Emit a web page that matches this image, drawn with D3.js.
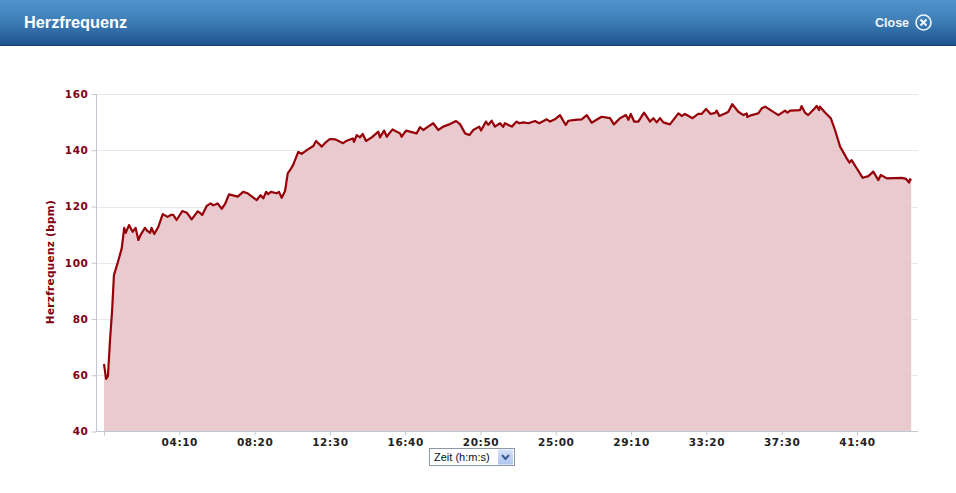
<!DOCTYPE html>
<html><head><meta charset="utf-8">
<script src="https://cdn.jsdelivr.net/npm/d3@7"></script>
<style>html,body{margin:0;padding:0;background:#fff;overflow:hidden}svg{display:block}</style>
</head><body><div id="c"></div>
<script>
const seconds=[0,7,13,20,27,33,40,50,59,67,72,83,95,105,114,123,136,144,153,158,167,180,195,211,222,230,241,260,275,291,311,319,326,341,354,363,377,391,402,415,444,462,477,507,520,529,538,545,554,573,581,590,601,610,618,628,645,656,678,695,704,723,734,750,767,794,806,826,830,839,850,859,870,889,911,916,930,939,947,958,983,988,1003,1038,1049,1060,1076,1093,1110,1126,1149,1169,1182,1199,1213,1226,1246,1252,1268,1276,1287,1298,1315,1325,1331,1354,1370,1379,1392,1409,1431,1445,1470,1481,1497,1514,1533,1542,1564,1586,1603,1619,1652,1680,1693,1713,1733,1741,1749,1760,1774,1793,1813,1824,1835,1846,1857,1879,1907,1918,1929,1954,1973,1984,1999,2014,2029,2034,2043,2062,2073,2086,2106,2123,2134,2136,2150,2172,2184,2195,2239,2261,2269,2278,2311,2316,2327,2338,2360,2366,2374,2377,2394,2413,2427,2444,2466,2475,2482,2499,2519,2538,2554,2571,2579,2599,2648,2663,2673,2676,2680];
const bpm=[64,58.7,59.7,72.5,83.2,95.6,98.1,101.7,105.2,112.4,110.6,113.4,111,112.4,108.1,110.2,112.4,111.3,110.6,112.4,110.2,112.7,117.3,116.3,117,117,115.2,118.4,117.8,115.4,118.3,117.7,117,120.2,121.1,120.4,121.1,119.2,120.9,124.3,123.5,125.2,124.7,122.3,124,122.9,125.2,124.4,125.2,124.7,125.2,123.1,125.5,131.8,133,134.8,139.4,138.7,140.4,141.5,143.3,141.3,142.6,144,143.9,142.5,143.4,144.2,143,145.4,144.6,145.8,143.3,144.6,146.6,144.6,147,144.8,146,147.4,146,144.8,147,146,148.2,147.2,148.4,149.6,147.2,148.4,149.3,150.4,149.3,146,145.4,147.2,148.4,147,150.2,149,150.5,148.4,149.6,148.3,149.6,148.4,150.2,149.6,149.9,149.6,150.4,149.6,151,150.2,151,152.5,149,150.5,150.8,151,152.5,149.8,151.9,151.4,149.2,151.4,152.5,150.8,152.9,150.2,150.2,153.4,150.2,151.4,149.9,151.4,149.9,149.2,153.1,152.2,152.9,151.4,152.9,152.9,154.7,152.9,153.3,154.1,152.2,153.1,153.7,156.4,153.7,152.5,153.1,151.8,152.5,153.1,154.9,155.5,152.5,154.1,153.4,154.1,154.3,155.7,153.4,152.5,154.9,155.8,154.3,155.5,153.4,151.4,147.2,141.3,137.1,135.6,136.5,133.6,130.2,130.8,132.4,129.4,131.2,130,130.2,129.8,128.5,129.7,129.2];
const yTicks=[40,60,80,100,120,140,160];
const xTicks=[0,250,500,750,1000,1250,1500,1750,2000,2250,2500];
const xTickLabels=["","04:10","08:20","12:30","16:40","20:50","25:00","29:10","33:20","37:30","41:40"];
const titleText="Herzfrequenz", closeText="Close", yTitle="Herzfrequenz (bpm)", selectText="Zeit (h:m:s)";
const points=seconds.map((s,i)=>({s,v:bpm[i]}));

const W=956,H=493;
const svg=d3.select("#c").append("svg").attr("width",W).attr("height",H);
const defs=svg.append("defs");
const hg=defs.append("linearGradient").attr("id","hdr").attr("x1",0).attr("x2",0).attr("y1",0).attr("y2",1);
hg.append("stop").attr("offset","0").attr("stop-color","#5094cd");
hg.append("stop").attr("offset","0.45").attr("stop-color","#3f7fb8");
hg.append("stop").attr("offset","1").attr("stop-color","#1d5490");
const bg=defs.append("linearGradient").attr("id","btn").attr("x1",0).attr("x2",0).attr("y1",0).attr("y2",1);
bg.append("stop").attr("offset","0").attr("stop-color","#d6e2f8");
bg.append("stop").attr("offset","1").attr("stop-color","#aec5ee");

// header
svg.append("rect").attr("width",W).attr("height",45).attr("fill","url(#hdr)");
svg.append("rect").attr("y",45).attr("width",W).attr("height",1).attr("fill","#17406f");
svg.append("text").attr("x",24).attr("y",27.5).attr("fill","#fff").attr("font-family","'Liberation Sans',Arial,sans-serif").attr("font-weight","bold").attr("font-size",16.3).text(titleText);
svg.append("text").attr("x",875).attr("y",27).attr("fill","#eef5fb").attr("font-family","'Liberation Sans',Arial,sans-serif").attr("font-weight","bold").attr("font-size",12.5).text(closeText);
const cl=svg.append("g").attr("transform","translate(923.5,22.5)").attr("fill","none").attr("stroke","#f2f7fb");
cl.append("circle").attr("r",7.5).attr("stroke-width",1.6);
cl.append("path").attr("d","M-3,-3L3,3M3,-3L-3,3").attr("stroke-width",2);

const x=d3.scaleLinear().domain([0,2680]).range([104,911.2]);
const y=d3.scaleLinear().domain([40,160]).range([431.5,94]);

const font="'DejaVu Sans',Verdana,sans-serif";
// grid
svg.append("g").selectAll("line").data(yTicks.slice(1)).join("line")
  .attr("x1",96).attr("x2",918).attr("y1",d=>Math.round(y(d))+.5).attr("y2",d=>Math.round(y(d))+.5)
  .attr("stroke","#e8e8e8");

// area + line
const area=d3.area().x(d=>x(d.s)).y0(y(40)).y1(d=>y(d.v));
const line=d3.line().x(d=>x(d.s)).y(d=>y(d.v));
svg.append("path").datum(points).attr("d",area).attr("fill","#e6c4c8").attr("fill-opacity",0.88);
svg.append("path").datum(points).attr("d",line).attr("fill","none").attr("stroke","#960008").attr("stroke-width",2.2).attr("stroke-linejoin","round");

// axes
const gy=svg.append("g").attr("transform","translate(96.5,0)")
  .call(d3.axisLeft(y).tickValues(yTicks).tickSize(5).tickPadding(3).tickFormat(d3.format("d")));
gy.select(".domain").attr("stroke","#c0c8d4").attr("d","M0,94V431.5");
gy.selectAll(".tick line").attr("stroke","#c0c8d4");
gy.selectAll("text").attr("fill","#7d0012").attr("font-family",font).attr("font-weight","bold").attr("font-size",10.5).attr("letter-spacing",0.6);

const gx=svg.append("g").attr("transform","translate(0,431.5)")
  .call(d3.axisBottom(x).tickValues(xTicks).tickSize(4).tickPadding(3).tickFormat((d,i)=>xTickLabels[i]));
gx.select(".domain").attr("stroke","#c0c8d4").attr("d","M96,0H918");
gx.selectAll(".tick line").attr("stroke","#c0c8d4");
gx.selectAll("text").attr("fill","#222").attr("font-family",font).attr("font-weight","bold").attr("font-size",10.5).attr("letter-spacing",0.6);

svg.append("text").attr("transform","translate(54,262) rotate(-90)").attr("text-anchor","middle")
  .attr("fill","#7d0012").attr("font-family",font).attr("font-weight","bold").attr("font-size",10.5).attr("letter-spacing",0.3).text(yTitle);

// select control
const s=svg.append("g").attr("transform","translate(429,448)");
s.append("rect").attr("x",.5).attr("y",.5).attr("width",85).attr("height",17).attr("fill","#fff").attr("stroke","#8a99a8");
s.append("rect").attr("x",69).attr("y",1.5).attr("width",15).attr("height",15).attr("fill","url(#btn)");
s.append("path").attr("d","M73,7L76.5,11L80,7").attr("fill","none").attr("stroke","#3d5a98").attr("stroke-width",2);
s.append("text").attr("x",5).attr("y",13).attr("fill","#111").attr("font-family","'Liberation Sans',Arial,sans-serif").attr("font-size",11).text(selectText);
</script></body></html>
